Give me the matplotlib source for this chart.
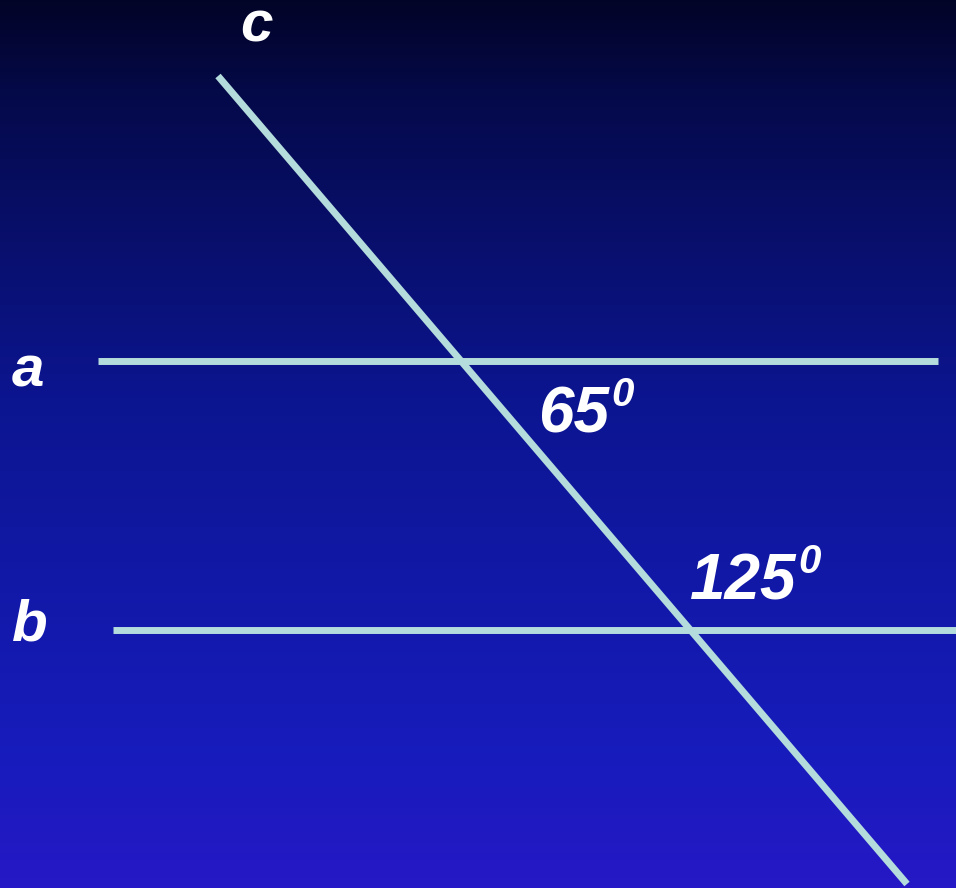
import numpy as np
import matplotlib.pyplot as plt
from matplotlib.colors import LinearSegmentedColormap

W, H = 956, 888

# line endpoints (pixel coords, y down)
line_names = ['a', 'b', 'c']
line_x0 = [98, 113, 218]
line_y0 = [361, 630, 76]
line_x1 = [938, 956, 907]
line_y1 = [361, 630, 884]

# letter labels
label_text = ['c', 'a', 'b']
label_x = [240, 12, 12]
label_y = [42, 386, 640]

# angle labels
angle_text = ['65', '125']
angle_x = [538, 690]
angle_y = [432, 599]

bg = LinearSegmentedColormap.from_list(
    'bg', [(0.0, '#020427'), (0.12, '#050a4d'), (0.45, '#0c1590'),
           (0.85, '#171cbc'), (1.0, '#2618c6')])

fig = plt.figure(figsize=(W / 100, H / 100), dpi=100)
ax = fig.add_axes([0, 0, 1, 1])
ax.set_xlim(0, W)
ax.set_ylim(H, 0)
ax.axis('off')

grad = np.linspace(0, 1, 256).reshape(-1, 1)
ax.imshow(grad, cmap=bg, aspect='auto', extent=[0, W, H, 0], zorder=0)

for x0, y0, x1, y1 in zip(line_x0, line_y0, line_x1, line_y1):
    ax.plot([x0, x1], [y0, y1], color='#b4dcdc', lw=5, solid_capstyle='butt', zorder=2)

font = dict(family='Liberation Sans', weight='bold', style='italic', color='white')
for t, x, y in zip(label_text, label_x, label_y):
    ax.text(x, y, t, fontsize=42, ha='left', va='baseline', **font, zorder=3)

for t, x, y in zip(angle_text, angle_x, angle_y):
    txt = ax.text(x, y, t, fontsize=46, ha='left', va='baseline', **font, zorder=3)
    fig.canvas.draw()
    bb = txt.get_window_extent().transformed(ax.transData.inverted())
    ax.text(bb.x1 + 2, y - 26, '0', fontsize=29, ha='left', va='baseline', **font, zorder=3)

fig.savefig('out.png', dpi=100)
